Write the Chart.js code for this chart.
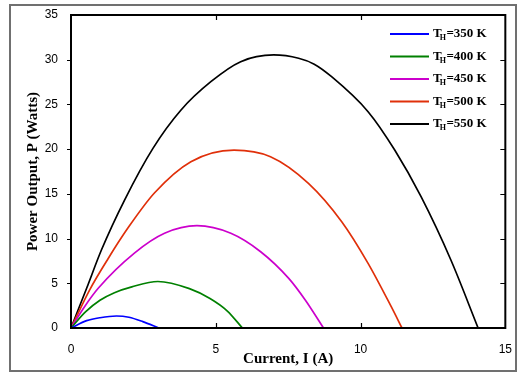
<!DOCTYPE html>
<html>
<head>
<meta charset="utf-8">
<script src="https://cdn.jsdelivr.net/npm/chart.js@4"></script>
<style>
  html, body { margin: 0; padding: 0; background: #fff; }
  #wrap { position: relative; width: 518px; height: 374px; }
</style>
</head>
<body>
<div id="wrap"><canvas id="my-chart" width="518" height="374"></canvas></div>
<script>
// hot side temperatures (K), one curve each
const temps = [350, 400, 450, 500, 550];
const colors = ['#0000ff', '#008000', '#cc00cc', '#e0300a', '#000000'];

// current I (A) and power P (W)
const i350 = [0, 0.54, 1.0, 1.57, 2.0, 2.48, 3.03];
const p350 = [0, 0.82, 1.15, 1.34, 1.2, 0.71, 0];

const i400 = [0, 0.5, 1.0, 1.5, 2.1, 3.0, 4.09, 4.8, 5.4, 5.92];
const p400 = [0, 1.8, 3.1, 3.95, 4.6, 5.2, 4.4, 3.3, 1.9, 0];

const i450 = [0, 0.45, 0.94, 2.2, 3.23, 4.35, 5.52, 6.55, 7.52, 8.09, 8.72];
const p450 = [0, 2.3, 4.44, 8.4, 10.59, 11.44, 10.59, 8.53, 5.55, 3.13, 0];

const i500 = [0, 0.65, 1.28, 1.97, 2.88, 4.14, 5.63, 6.89, 8.2, 9.35, 10.26, 11.06, 11.43];
const p500 = [0, 4.3, 7.75, 11.2, 15.1, 18.6, 19.9, 19.16, 16.18, 11.89, 7.23, 2.38, 0];

const i550 = [0, 0.54, 1.05, 1.85, 2.83, 3.8, 4.83, 5.86, 7.0, 7.86, 8.4, 9.0, 10.26, 11.18, 12.09, 13.12, 14.06];
const p550 = [0, 4.44, 8.72, 14.31, 20.09, 24.38, 27.54, 29.78, 30.53, 30.16, 29.5, 28.1, 24.19, 19.9, 14.68, 7.6, 0];

const xTicks = [0, 5, 10, 15];
const yTicks = [0, 5, 10, 15, 20, 25, 30, 35];

const currents = [i350, i400, i450, i500, i550];
const powers = [p350, p400, p450, p500, p550];

function pts(xs, ys) {
    return xs.map((x, k) => ({ x: x, y: ys[k] }));
}

const datasets = temps.map((t, k) => ({
    label: 'T_H=' + t + ' K',
    data: pts(currents[k], powers[k]),
    borderColor: colors[k],
    backgroundColor: colors[k],
    borderWidth: 1.7,
    pointRadius: 0,
    cubicInterpolationMode: 'monotone',
    fill: false
}));

// frame, ticks and the legend with subscript H
const decor = {
    id: 'decor',
    afterDraw(chart) {
        const ctx = chart.ctx;
        const a = chart.chartArea;
        const xs = chart.scales.x, ys = chart.scales.y;
        ctx.save();
        // outer grey frame
        ctx.strokeStyle = '#707070';
        ctx.lineWidth = 2;
        ctx.strokeRect(10, 5, 506, 366);
        // plot box
        ctx.strokeStyle = '#000';
        ctx.lineWidth = 2;
        ctx.strokeRect(a.left, a.top, a.right - a.left, a.bottom - a.top);
        ctx.lineWidth = 1.2;
        ctx.beginPath();
        xTicks.slice(1, -1).forEach(v => {
            const px = Math.round(xs.getPixelForValue(v)) + 0.5;
            ctx.moveTo(px, a.bottom); ctx.lineTo(px, a.bottom - 5);
            ctx.moveTo(px, a.top); ctx.lineTo(px, a.top + 5);
        });
        yTicks.slice(1, -1).forEach(v => {
            const py = Math.round(ys.getPixelForValue(v)) + 0.5;
            ctx.moveTo(a.left, py); ctx.lineTo(a.left - 4, py);
            ctx.moveTo(a.right, py); ctx.lineTo(a.right - 5, py);
        });
        ctx.stroke();
        // legend
        ctx.textBaseline = 'middle';
        temps.forEach((t, k) => {
            const y = 34 + k * 22.5;
            ctx.strokeStyle = colors[k];
            ctx.lineWidth = 2;
            ctx.beginPath();
            ctx.moveTo(390, y); ctx.lineTo(429, y);
            ctx.stroke();
            ctx.fillStyle = '#000';
            ctx.font = 'bold 13px "Liberation Serif", serif';
            ctx.fillText('T', 433, y);
            const tw = ctx.measureText('T').width;
            ctx.font = 'bold 8px "Liberation Serif", serif';
            ctx.fillText('H', 433 + tw - 2, y + 4);
            const hw = ctx.measureText('H').width;
            ctx.font = 'bold 13px "Liberation Serif", serif';
            ctx.fillText('=' + t + ' K', 433 + tw - 2 + hw + 0.5, y);
        });
        ctx.restore();
    }
};

const config = {
    type: 'line',
    data: { datasets: datasets },
    options: {
        responsive: false,
        animation: false,
        layout: { padding: { top: 15, right: 9, left: 0, bottom: 0 } },
        plugins: { legend: { display: false }, tooltip: { enabled: false } },
        scales: {
            x: {
                type: 'linear', min: 0, max: 15,
                grid: { display: false },
                border: { display: false },
                afterBuildTicks: s => { s.ticks = xTicks.map(v => ({ value: v })); },
                afterFit: s => { s.height = 46; },
                ticks: { color: '#000', padding: 6, font: { family: '"Liberation Sans", Arial', size: 12 }, maxRotation: 0 },
                title: { display: true, text: 'Current, I (A)', color: '#000', padding: { top: 2, bottom: 6 },
                         font: { family: '"Liberation Serif", serif', size: 15, weight: 'bold' } }
            },
            y: {
                type: 'linear', min: 0, max: 35,
                grid: { display: false },
                border: { display: false },
                afterBuildTicks: s => { s.ticks = yTicks.map(v => ({ value: v })); },
                afterFit: s => { s.width = 71; },
                ticks: { color: '#000', padding: 5, font: { family: '"Liberation Sans", Arial', size: 12 } },
                title: { display: true, text: 'Power Output, P (Watts)', color: '#000', padding: { top: 24, bottom: 0 },
                         font: { family: '"Liberation Serif", serif', size: 15, weight: 'bold' } }
            }
        }
    },
    plugins: [decor]
};

const myChart = new Chart(document.getElementById('my-chart'), config);
</script>
</body>
</html>
